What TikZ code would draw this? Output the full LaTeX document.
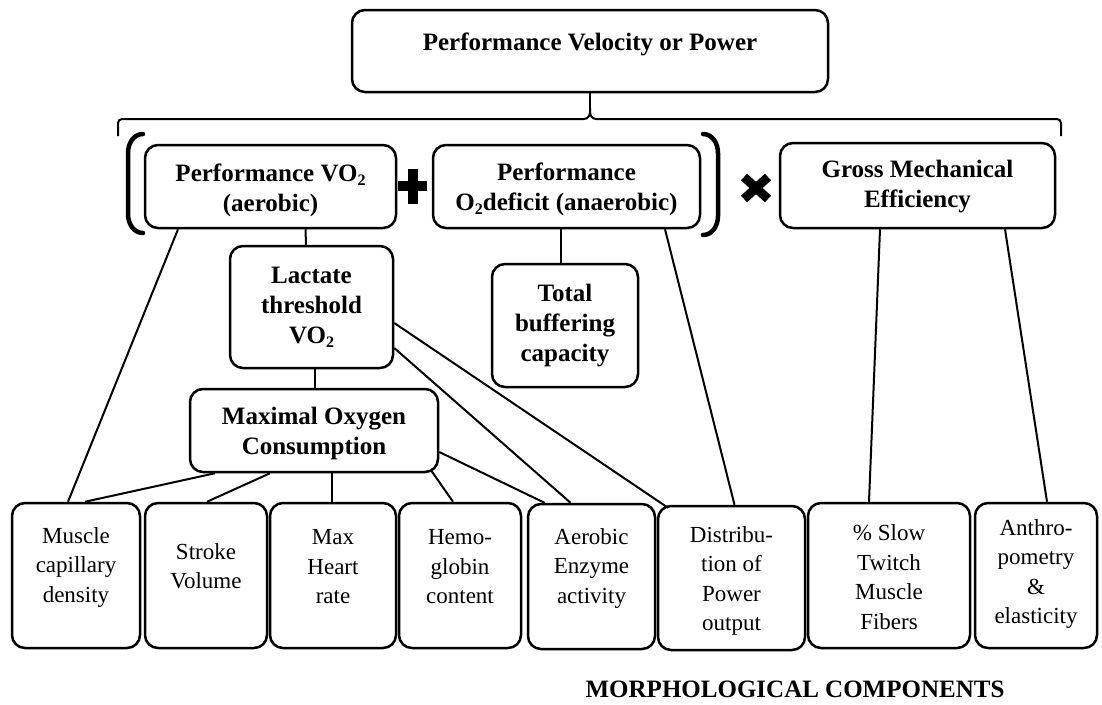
\documentclass[tikz,border=0pt]{standalone}
\usepackage{fontspec}
\setmainfont{Liberation Serif}
\newcommand\lowtwo{\raisebox{-0.35ex}{\fontsize{16}{16}\selectfont 2}}
\begin{document}
\begin{tikzpicture}[x=1pt,y=-1pt,
  box/.style={draw, line width=2.5pt, rounded corners=13pt, inner sep=0pt},
  bt/.style={font=\fontsize{25}{30}\selectfont\bfseries, align=center, inner sep=0pt},
  rt/.style={font=\fontsize{23}{29.5}\selectfont, align=center, inner sep=0pt},
  conn/.style={line width=2pt},
  brk/.style={line width=4.5pt, line cap=round},
  sym/.style={line width=10pt},
]
\path[use as bounding box, fill=white] (0,0) rectangle (1102,704);

% top
\node[box, minimum width=476, minimum height=82] (title) at (590,51) {};
\node[bt] (titlet) at (590,44) {Performance Velocity or Power};

% second row
\node[box, minimum width=251, minimum height=83] (A) at (270.5,186.5) {};
\node[bt] (At) at (270.5,190) {Performance VO\lowtwo\\(aerobic)};
\node[box, minimum width=267, minimum height=83] (B) at (566.5,186.5) {};
\node[bt] (Bt) at (566.5,189) {Performance\\O\lowtwo deficit (anaerobic)};
\node[box, minimum width=275, minimum height=85] (C) at (917.5,185.5) {};
\node[bt] (Ct) at (917.5,187) {Gross Mechanical\\Efficiency};

% middle
\node[box, minimum width=163, minimum height=122] (L) at (311.5,307) {};
\node[bt] (Lt) at (311.5,307) {Lactate\\threshold\\VO\lowtwo};
\node[box, minimum width=248, minimum height=83] (M) at (314,430.5) {};
\node[bt] (Mt) at (314,433) {Maximal Oxygen\\Consumption};
\node[box, minimum width=146, minimum height=123] (T) at (565,325.5) {};
\node[bt] (Tt) at (565,326) {Total\\buffering\\capacity};

% bottom row
\node[box, minimum width=128, minimum height=145] (b1) at (76,575.5) {};
\node[rt] (b1t) at (76,567) {Muscle\\capillary\\density};
\node[box, minimum width=122, minimum height=145] (b2) at (206,575.5) {};
\node[rt] (b2t) at (206,566) {Stroke\\Volume};
\node[box, minimum width=126, minimum height=145] (b3) at (333,575.5) {};
\node[rt] (b3t) at (333,567) {Max\\Heart\\rate};
\node[box, minimum width=122, minimum height=145] (b4) at (460,575.5) {};
\node[rt] (b4t) at (460,567) {Hemo-\\globin\\content};
\node[box, minimum width=127, minimum height=145] (b5) at (591.5,576.5) {};
\node[rt] (b5t) at (591.5,568) {Aerobic\\Enzyme\\activity};
\node[box, minimum width=147, minimum height=144] (b6) at (731.5,578) {};
\node[rt] (b6t) at (731.5,581) {Distribu-\\tion of\\Power\\output};
\node[box, minimum width=162, minimum height=145] (b7) at (889,575.5) {};
\node[rt] (b7t) at (889,577) {\% Slow\\Twitch\\Muscle\\Fibers};
\node[box, minimum width=122, minimum height=145] (b8) at (1036,575.5) {};
\node[rt] (b8t) at (1036,574) {Anthro-\\pometry\\\&\\elasticity};

\node[bt] (morph) at (795,689) {MORPHOLOGICAL COMPONENTS};

% brace
\coordinate (tip) at (590,108);
\draw[conn] (title.south) -- (tip);
\draw[conn, rounded corners=4pt] (118,136) |- (584,119);
\draw[conn] (584,119) to[out=0,in=-90] (590,112) -- (tip);
\draw[conn] (590,112) to[out=-90,in=180] (596,119);
\draw[conn, rounded corners=4pt] (596,119) -| (1061,136);

% brackets
\draw[brk] (143,134) to[out=180,in=90] (128,153) -- (128,214) to[out=-90,in=180] (143,233);
\draw[brk] (703,134) to[out=0,in=90] (718,153) -- (718,216) to[out=-90,in=0] (703,235);

% plus and times
\draw[sym] (398,186) -- (427,186);
\draw[sym] (412.5,169) -- (412.5,204);
\draw[line width=9pt] (744,177) -- (768,199);
\draw[line width=9pt] (744,199) -- (768,177);

% connectors
\draw[conn] ([xshift=-92.5pt]A.south) -- ([xshift=-8pt]b1.north);
\draw[conn] ([xshift=35pt]A.south) -- ([xshift=-5.5pt]L.north);
\draw[conn] ([xshift=3.5pt]L.south) -- ([xshift=1pt]M.north);
\draw[conn] ([xshift=-99pt]M.south) -- ([xshift=9pt]b1.north);
\draw[conn] ([xshift=-44pt]M.south) -- ([xshift=1pt]b2.north);
\draw[conn] ([xshift=18pt]M.south) -- ([xshift=-1pt]b3.north);
\draw[conn] ([xshift=117pt,yshift=3pt]M.south) -- ([xshift=-7pt]b4.north);
\draw[conn] ([yshift=-21.5pt]M.east) -- ([xshift=-47pt]b5.north);
\draw[conn] ([yshift=-41pt]L.east) -- ([xshift=-21pt]b5.north);
\draw[conn] ([yshift=-16pt]L.east) -- ([xshift=-63.5pt,yshift=-3pt]b6.north);
\draw[conn] ([xshift=98.5pt]B.south) -- ([xshift=3pt]b6.north);
\draw[conn] ([xshift=-5.5pt]B.south) -- ([xshift=-4pt]T.north);
\draw[conn] ([xshift=-37.5pt]C.south) -- ([xshift=-20pt]b7.north);
\draw[conn] ([xshift=87.5pt]C.south) -- ([xshift=11pt]b8.north);
\end{tikzpicture}
\end{document}
